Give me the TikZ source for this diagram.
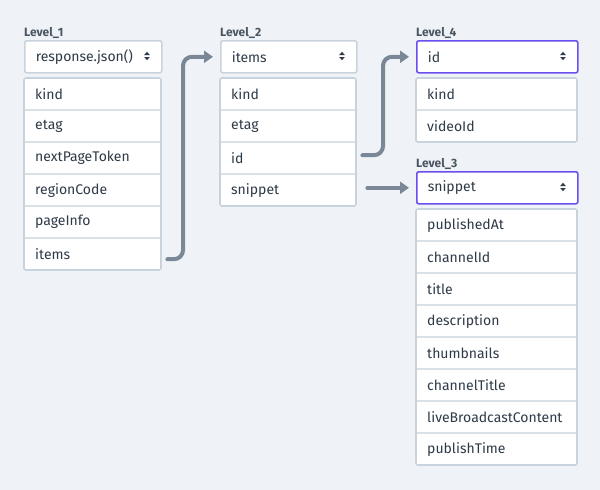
\documentclass[tikz,border=0pt]{standalone}
\usepackage{fontspec}
\setmainfont{Fira Sans}
\usetikzlibrary{arrows.meta}
\definecolor{bg}{HTML}{EFF3F7}
\definecolor{bord}{HTML}{C9D3DD}
\definecolor{sepc}{HTML}{D8E0E8}
\definecolor{txt}{HTML}{2E3A47}
\definecolor{lbl}{HTML}{4A5562}
\definecolor{arr}{HTML}{7A8796}
\definecolor{selc}{HTML}{6B4EF0}
\tikzset{
  lvl/.style={font=\bfseries\fontsize{12}{14}\selectfont, text=lbl, anchor=base west, inner sep=0pt},
  ddbox/.style={draw=#1, line width=1.6pt, fill=white, rounded corners=2pt, minimum height=32pt,
    anchor=north west, inner xsep=11pt, inner ysep=0pt, align=left, text=txt,
    font=\fontsize{14}{16}\selectfont},
  ddbox/.default=bord,
  rowbox/.style={minimum height=32pt, anchor=north west, inner xsep=11pt, inner ysep=0pt,
    align=left, text=txt, font=\fontsize{14}{16}\selectfont},
  listbox/.style={draw=bord, line width=1.6pt, rounded corners=2pt},
  seprule/.style={draw=sepc, line width=1.2pt},
  conn/.style={draw=arr, line width=4pt, line cap=round, rounded corners=9pt,
    -{Triangle[length=9pt,width=12pt]}},
  updn/.style={fill=txt, draw=none},
}
% \ddicon{x}{y}: up/down triangles centered at x,y
\newcommand{\ddicon}[2]{%
  \fill[updn] (#1-2.8,#2-1) -- (#1+2.8,#2-1) -- (#1,#2-4.2) -- cycle;
  \fill[updn] (#1-2.8,#2+1) -- (#1+2.8,#2+1) -- (#1,#2+4.2) -- cycle;
}
\begin{document}
\begin{tikzpicture}[x=1pt,y=-1pt]
\fill[bg] (0,0) rectangle (600,490);
\useasboundingbox (0,0) rectangle (600,490);

% ---------- Level_1
\node[lvl] (lab1) at (24,36) {Level\_1};
\node[ddbox, text width=115pt] (dd1) at (24,40) {response.json()};
\ddicon{147}{56}
\fill[white] (24,78) rectangle (161,270);
\foreach \t [count=\i from 0] in {kind,etag,nextPageToken,regionCode,pageInfo,items}{
  \node[rowbox, text width=115pt] (a\i) at (24,78+32*\i) {\t};
}
\foreach \i in {1,...,5}{ \draw[seprule] (24,78+32*\i) -- (161,78+32*\i); }
\draw[listbox] (24,78) rectangle (161,270);

% ---------- Level_2
\node[lvl] (lab2) at (220,36) {Level\_2};
\node[ddbox, text width=114pt] (dd2) at (220,40) {items};
\ddicon{342}{56}
\fill[white] (220,78) rectangle (356,206);
\foreach \t [count=\i from 0] in {kind,etag,id,snippet}{
  \node[rowbox, text width=114pt] (b\i) at (220,78+32*\i) {\t};
}
\foreach \i in {1,...,3}{ \draw[seprule] (220,78+32*\i) -- (356,78+32*\i); }
\draw[listbox] (220,78) rectangle (356,206);

% ---------- Level_4
\node[lvl] (lab4) at (416,36) {Level\_4};
\node[ddbox=selc, text width=139pt] (dd4) at (416,40) {id};
\ddicon{563}{56}
\fill[white] (416,78) rectangle (577,142);
\foreach \t [count=\i from 0] in {kind,videoId}{
  \node[rowbox, text width=139pt] (d\i) at (416,78+32*\i) {\t};
}
\draw[seprule] (416,110) -- (577,110);
\draw[listbox] (416,78) rectangle (577,142);

% ---------- Level_3
\node[lvl] (lab3) at (416,167) {Level\_3};
\node[ddbox=selc, text width=139pt] (dd3) at (416,171) {snippet};
\ddicon{563}{187}
\fill[white] (416,209) rectangle (577,465);
\foreach \t [count=\i from 0] in {publishedAt,channelId,title,description,thumbnails,channelTitle,liveBroadcastContent,publishTime}{
  \node[rowbox, text width=139pt] (c\i) at (416,209+32*\i) {\t};
}
\foreach \i in {1,...,7}{ \draw[seprule] (416,209+32*\i) -- (577,209+32*\i); }
\draw[listbox] (416,209) rectangle (577,465);

% ---------- connectors
\draw[conn] ([xshift=6pt,yshift=-5pt]a5.east) -| ([xshift=-37pt]dd2.west) -- ([xshift=-7pt]dd2.west);
\draw[conn] ([xshift=6pt,yshift=3pt]b2.east) -| ([xshift=-33pt]dd4.west) -- ([xshift=-7pt]dd4.west);
\draw[conn] ([xshift=11pt]b3.east |- dd3.west) -- ([xshift=-7pt]dd3.west);
\end{tikzpicture}
\end{document}
